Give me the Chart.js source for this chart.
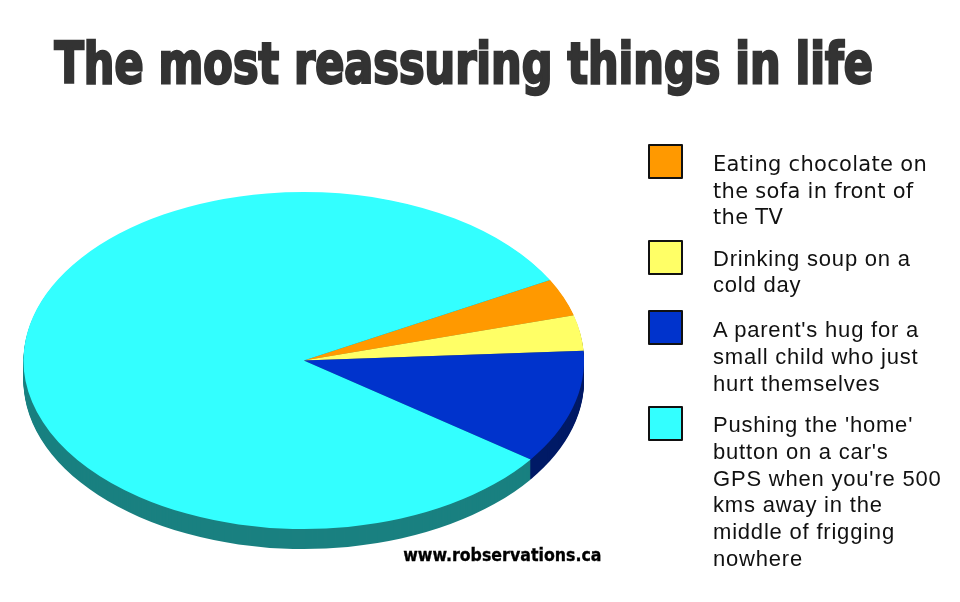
<!DOCTYPE html>
<html>
<head>
<meta charset="utf-8">
<script src="https://cdn.jsdelivr.net/npm/chart.js@4/dist/chart.umd.min.js"></script>
<style>
  html, body { margin: 0; padding: 0; background: #fff; width: 960px; height: 602px; overflow: hidden; }
  #wrap { position: relative; width: 960px; height: 602px; }
  #c { position: absolute; left: 0; top: 0; }
  .fit { position: absolute; left: 0; top: 0; white-space: nowrap; transform-origin: 0 0; margin: 0; }
  #title { color: #333; -webkit-text-stroke: 2.6px #333; }
  #mark { color: #000; -webkit-text-stroke: 1.1px #000; }
  .box { position: absolute; left: 648px; width: 31px; height: 31px; border: 2px solid #111; border-radius: 1px; }
  .lbl { position: absolute; left: 713px; line-height: 26.67px; color: #111; white-space: pre; }
</style>
</head>
<body>
<div id="wrap">
  <canvas id="c" width="960" height="602"></canvas>
  <div id="title" class="fit"></div>
  <div id="mark" class="fit"></div>
  <div id="legend"></div>
</div>
<script>
// ---- data ----
const TITLE = "The most reassuring things in life";
const WATERMARK = "www.robservations.ca";
const categories = [
  "Eating chocolate on\nthe sofa in front of\nthe TV",
  "Drinking soup on a\ncold day",
  "A parent's hug for a\nsmall child who just\nhurt themselves",
  "Pushing the 'home'\nbutton on a car's\nGPS when you're 500\nkms away in the\nmiddle of frigging\nnowhere"
];
const values = [3.6, 3.4, 10.9, 82.1];

// ---- styles ----
const topColors  = ["#FF9900", "#FFFF66", "#0033CC", "#33FFFF"];
const sideColors = ["#804C00", "#808033", "#001A66", "#1A8080"];
const legendFonts = ['"DejaVu Sans", Verdana, sans-serif', '"Liberation Sans", Arial, sans-serif',
                     '"Liberation Sans", Arial, sans-serif', '"Liberation Sans", Arial, sans-serif'];
const legendSizes = [21, 22, 22, 22];
const legendSpacing = [0.3, 0.8, 0.8, 0.8];
const legendBoxTops = [144, 240, 310, 406];
const legendTextTops = [151, 245.6, 317.2, 412.2];

// ---- text fitting helper ----
function fitText(el, text, family, inkLeft, inkRight, refChar, refTop, baseline) {
  const size = 60;
  const font = 'bold ' + size + 'px ' + family;
  el.textContent = text;
  el.style.font = font;
  el.style.lineHeight = size + 'px';
  const m = document.createElement('canvas').getContext('2d');
  m.font = font;
  const tm = m.measureText(text);
  const rm = m.measureText(refChar);
  const inkW = tm.actualBoundingBoxLeft + tm.actualBoundingBoxRight;
  const refH = rm.actualBoundingBoxAscent;
  const sx = (inkRight - inkLeft) / inkW;
  const sy = (baseline - refTop) / refH;
  const fa = tm.fontBoundingBoxAscent, fd = tm.fontBoundingBoxDescent;
  const baseInBox = (size - (fa + fd)) / 2 + fa;
  const left = inkLeft + sx * tm.actualBoundingBoxLeft;
  const top = baseline - sy * baseInBox;
  el.style.transform = 'translate(' + left + 'px,' + top + 'px) scale(' + sx + ',' + sy + ')';
}
const condensed = '"Liberation Sans Narrow", "DejaVu Sans Condensed", "DejaVu Sans", sans-serif';
fitText(document.getElementById('title'), TITLE, condensed, 54.5, 871.5, 'T', 39.5, 82.5);
fitText(document.getElementById('mark'), WATERMARK, condensed, 403.5, 600.5, 'b', 547.3, 561.2);

// ---- legend ----
const legend = document.getElementById('legend');
categories.forEach((c, i) => {
  const b = document.createElement('div');
  b.className = 'box';
  b.style.top = legendBoxTops[i] + 'px';
  b.style.background = topColors[i];
  legend.appendChild(b);
  const t = document.createElement('div');
  t.className = 'lbl';
  t.style.top = legendTextTops[i] + 'px';
  t.style.fontFamily = legendFonts[i];
  t.style.fontSize = legendSizes[i] + 'px';
  t.style.letterSpacing = legendSpacing[i] + 'px';
  t.textContent = c;
  legend.appendChild(t);
});

// ---- 3D elliptical pie plugin ----
const RX = 280.3, RY = 168.5, DEPTH = 20;
const pie3d = {
  id: 'pie3d',
  beforeDatasetsDraw(chart) {
    const ctx = chart.ctx;
    const meta = chart.getDatasetMeta(0);
    const p0 = meta.data[0].getProps(['x', 'y', 'outerRadius'], true);
    const x = p0.x, y = p0.y;
    const sx = RX / p0.outerRadius, sy = RY / p0.outerRadius;
    for (let d = DEPTH; d >= 1; d--) {
      ctx.save();
      ctx.translate(x, y + d); ctx.scale(sx, sy); ctx.translate(-x, -y);
      meta.data.forEach((arc, i) => {
        const p = arc.getProps(['startAngle', 'endAngle', 'outerRadius'], true);
        ctx.beginPath();
        ctx.moveTo(x, y);
        ctx.arc(x, y, p.outerRadius, p.startAngle, p.endAngle);
        ctx.closePath();
        ctx.fillStyle = sideColors[i];
        ctx.fill();
      });
      ctx.restore();
    }
    ctx.save();
    ctx.translate(x, y); ctx.scale(sx, sy); ctx.translate(-x, -y);
  },
  afterDatasetsDraw(chart) {
    chart.ctx.restore();
  }
};

new Chart(document.getElementById('c'), {
  type: 'pie',
  data: {
    labels: categories,
    datasets: [{
      data: values,
      backgroundColor: topColors,
      borderWidth: 0,
      clip: false
    }]
  },
  options: {
    responsive: false,
    animation: false,
    rotation: 61.5,
    layout: { padding: { left: 103.75, right: 456.25, top: 160.5, bottom: 41.5 } },
    plugins: { legend: { display: false }, tooltip: { enabled: false }, title: { display: false } },
    events: []
  },
  plugins: [pie3d]
});
</script>
</body>
</html>
